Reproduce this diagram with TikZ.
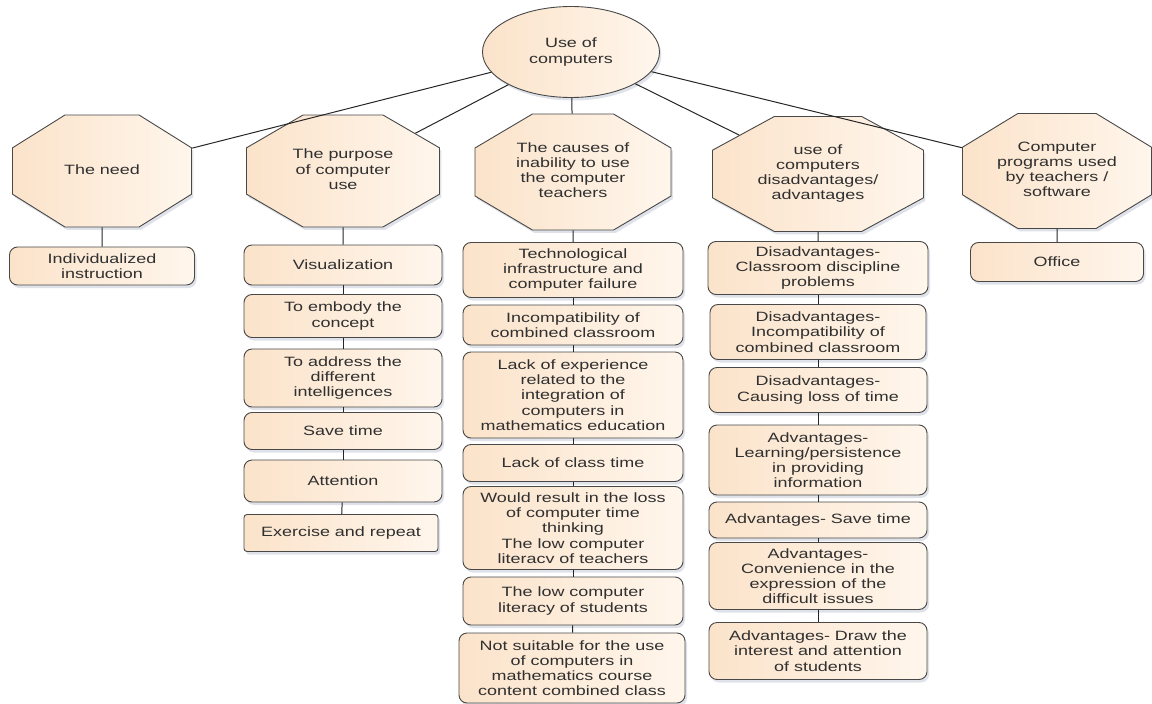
\documentclass[tikz,border=0pt]{standalone}
\usepackage{fontspec,graphicx}
\setmainfont{Liberation Sans}[FakeStretch=1.33]
\usetikzlibrary{shapes.geometric,shadows}
\definecolor{peach}{RGB}{251,227,202}
\definecolor{peachlt}{RGB}{255,246,236}
\definecolor{edgec}{RGB}{72,72,72}
\definecolor{txtc}{RGB}{48,48,48}
\definecolor{shadowc}{RGB}{150,160,180}
\tikzset{txt/.style={text=txtc,align=center,inner sep=0pt,font=\fontsize{13.5}{15.2}\selectfont},
  base/.style={txt,draw=edgec,line width=0.9pt,left color=peach,right color=peachlt,
    drop shadow={shadow xshift=2pt,shadow yshift=-3pt,fill=shadowc,opacity=0.3}},
  rootnode/.style={base,ellipse,minimum width=177pt,minimum height=91pt},
  octa/.style 2 args={base,regular polygon,regular polygon sides=8,
    minimum size=#2pt/0.9239,transform shape,xscale=#1/#2},
  box/.style 2 args={base,rounded corners=8pt,minimum width=#1pt,minimum height=#2pt},
  link/.style={draw=black!85,line width=1pt}}
% octagon: name, x, y, width, height, text
\newcommand{\octnode}[6]{\node[octa={#4}{#5}] (#1) at (#2,#3)
  {\scalebox{\fpeval{#5/#4}}[1]{\begin{tabular}{@{}c@{}}#6\end{tabular}}};}
\begin{document}
\begin{tikzpicture}[x=1pt,y=-1pt]
\useasboundingbox (0,0) rectangle (1152,704);
% top of the map
\node[rootnode] (root) at (571,52) {Use of\\computers};
% second level
\octnode{need}{102}{171}{179}{112}{The need}
\octnode{purp}{343}{171}{193}{112}{The purpose\\of computer\\use}
\octnode{cause}{573}{172}{196}{116}{The causes of\\inability to use\\the computer\\teachers}
\octnode{adv}{818}{174}{211}{115}{use of\\computers\\disadvantages/\\advantages}
\octnode{prog}{1057}{171}{189}{115}{Computer\\programs used\\by teachers /\\software}
% the need
\node[box={185}{38}] (indiv) at (102,266) {Individualized\\instruction};
% purpose
\node[box={198}{40}] (vis) at (343,265) {Visualization};
\node[box={198}{43}] (emb) at (343,316) {To embody the\\concept};
\node[box={198}{58}] (intel) at (343,378) {To address the\\different\\intelligences};
\node[box={198}{37}] (psave) at (343,431) {Save time};
\node[box={198}{42}] (att) at (343,481) {Attention};
\node[box={194}{37},rounded corners=3pt] (exer) at (341,533) {Exercise and repeat};
% causes
\node[box={220}{55}] (tech) at (573,270) {Technological\\infrastructure and\\computer failure};
\node[box={220}{40}] (incomp) at (573,325) {Incompatibility of\\combined classroom};
\node[box={220}{86}] (exper) at (573,395) {Lack of experience\\related to the\\integration of\\computers in\\mathematics education};
\node[box={220}{37}] (ctime) at (573,463) {Lack of class time};
\node[box={220}{83}] (loss) at (573,528) {Would result in the loss\\of computer time\\thinking\\The low computer\\literacv of teachers};
\node[box={220}{48}] (stud) at (573,601) {The low computer\\literacy of students};
\node[box={226}{70}] (suit) at (572,668) {Not suitable for the use\\of computers in\\mathematics course\\content combined class};
% disadvantages / advantages
\node[box={220}{53}] (dclass) at (818,268) {Disadvantages-\\Classroom discipline\\problems};
\node[box={216}{55}] (dincomp) at (818,332) {Disadvantages-\\Incompatibility of\\combined classroom};
\node[box={218}{45}] (dloss) at (818,390) {Disadvantages-\\Causing loss of time};
\node[box={218}{70}] (alearn) at (818,460) {Advantages-\\Learning/persistence\\in providing\\information};
\node[box={218}{36}] (asave) at (818,520) {Advantages- Save time};
\node[box={218}{67}] (aconv) at (818,576) {Advantages-\\Convenience in the\\expression of the\\difficult issues};
\node[box={218}{57}] (adraw) at (818,651) {Advantages- Draw the\\interest and attention\\of students};
% programs
\node[box={173}{39}] (office) at (1057,262) {Office};
% connectors
\foreach \a in {need,purp,cause,adv,prog}
  \draw[link] (root) -- (\a);
\foreach \a/\b in {need/indiv,purp/vis,vis/emb,emb/intel,intel/psave,psave/att,att/exer,
    cause/tech,tech/incomp,incomp/exper,exper/ctime,ctime/loss,loss/stud,stud/suit,
    adv/dclass,dclass/dincomp,dincomp/dloss,dloss/alearn,alearn/asave,asave/aconv,aconv/adraw,
    prog/office}
  \draw[link] (\a) -- (\b);
\end{tikzpicture}
\end{document}
